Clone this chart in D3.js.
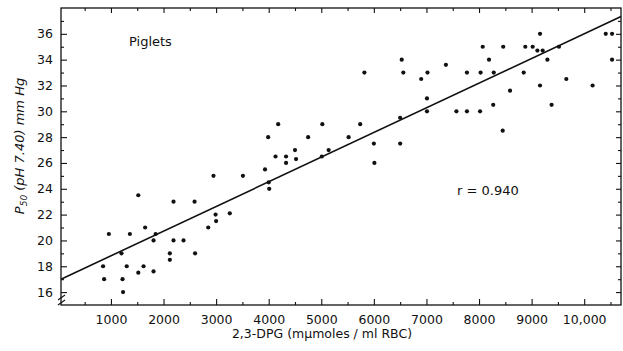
<!DOCTYPE html>
<html>
<head>
<meta charset="utf-8">
<script src="https://cdn.jsdelivr.net/npm/d3@7"></script>
<style>
  body { margin: 0; background: #fff; }
  svg { display: block; font-family: "DejaVu Sans", sans-serif; }
</style>
</head>
<body>
<script>
// 2,3-DPG (mμmoles/ml RBC) vs P50 (mm Hg), piglets
const dpg = [
  850, 870, 960, 1200, 1220, 1230, 1300, 1360, 1520, 1520, 1620, 1650, 1810, 1810, 1850,
  2120, 2120, 2190, 2190, 2380, 2590, 2600, 2850, 2950, 2990, 3000, 3260, 3510,
  3930, 3990, 4000, 4010, 4130, 4180, 4330, 4330, 4500, 4520, 4750, 5010, 5020, 5140,
  5520, 5740, 5820, 6000, 6010, 6500, 6500, 6530, 6560, 6900, 7010, 7010, 7020, 7370,
  7570, 7770, 7770, 8020, 8030, 8070, 8190, 8270, 8280, 8450, 8460, 8590, 8850, 8880,
  9020, 9110, 9160, 9160, 9210, 9300, 9380, 9520, 9660, 10160, 10410, 10530, 10530
];
const p50 = [
  18, 17, 20.5, 19, 17, 16, 18, 20.5, 23.5, 17.5, 18, 21, 20, 17.6, 20.5,
  19, 18.5, 23, 20, 20, 23, 19, 21, 25, 22, 21.5, 22.1, 25,
  25.5, 28, 24.5, 24, 26.5, 29, 26.5, 26, 27, 26.3, 28, 26.5, 29, 27,
  28, 29, 33, 27.5, 26, 27.5, 29.5, 34, 33, 32.5, 31, 30, 33, 33.6,
  30, 30, 33, 30, 33, 35, 34, 30.5, 33, 28.5, 35, 31.6, 33, 35,
  35, 34.7, 36, 32, 34.7, 34, 30.5, 35, 32.5, 32, 36, 36, 34
];
// fitted regression line
const fitIntercept = 16.9;
const fitSlope = 0.00191;
const fitR = "r = 0.940";

const xMajor = [1000, 2000, 3000, 4000, 5000, 6000, 7000, 8000, 9000, 10000];
const xMinor = [500, 1500, 2500, 3500, 4500, 5500, 6500, 7500, 8500, 9500, 10500];
const yMajor = [16, 18, 20, 22, 24, 26, 28, 30, 32, 34, 36];
const yMinor = [17, 19, 21, 23, 25, 27, 29, 31, 33, 35, 37];

const width = 623, height = 351;
const x = d3.scaleLinear().domain([50, 10700]).range([61, 621]);
const y = d3.scaleLinear().domain([15, 38]).range([305, 8]);

const svg = d3.select("body").append("svg")
  .attr("width", width)
  .attr("height", height)
  .attr("viewBox", [0, 0, width, height]);

function styleAxis(g) {
  g.select(".domain").remove();
  g.selectAll(".tick line").attr("stroke", "#111").attr("stroke-width", 1.1);
  g.selectAll(".tick text").attr("fill", "#111").attr("font-size", 12.5)
    .attr("font-family", "DejaVu Sans, sans-serif");
}

const fmtX = d => d === 10000 ? "10,000" : String(d);

// bottom axis
svg.append("g").attr("transform", `translate(0,${y(15)})`)
  .call(d3.axisBottom(x).tickValues(xMajor).tickSize(-6).tickPadding(10).tickFormat(fmtX))
  .call(styleAxis);
svg.append("g").attr("transform", `translate(0,${y(15)})`)
  .call(d3.axisBottom(x).tickValues(xMinor).tickSize(-3).tickFormat(""))
  .call(styleAxis);
// top axis
svg.append("g").attr("transform", `translate(0,${y(38)})`)
  .call(d3.axisTop(x).tickValues(xMajor).tickSize(-5).tickFormat(""))
  .call(styleAxis);
svg.append("g").attr("transform", `translate(0,${y(38)})`)
  .call(d3.axisTop(x).tickValues(xMinor).tickSize(-3).tickFormat(""))
  .call(styleAxis);
// left axis
svg.append("g").attr("transform", `translate(${x(50)},0)`)
  .call(d3.axisLeft(y).tickValues(yMajor).tickSize(-6).tickPadding(8))
  .call(styleAxis);
svg.append("g").attr("transform", `translate(${x(50)},0)`)
  .call(d3.axisLeft(y).tickValues(yMinor).tickSize(-3).tickFormat(""))
  .call(styleAxis);
// right axis
svg.append("g").attr("transform", `translate(${x(10700)},0)`)
  .call(d3.axisRight(y).tickValues(yMajor).tickSize(-5).tickFormat(""))
  .call(styleAxis);
svg.append("g").attr("transform", `translate(${x(10700)},0)`)
  .call(d3.axisRight(y).tickValues(yMinor).tickSize(-3).tickFormat(""))
  .call(styleAxis);

// frame
svg.append("rect")
  .attr("x", x(50)).attr("y", y(38))
  .attr("width", x(10700) - x(50)).attr("height", y(15) - y(38))
  .attr("fill", "none").attr("stroke", "#111").attr("stroke-width", 1.3);

// axis break marks
const bx = x(50), by = y(15) - 8;
[0, 5].forEach(off => {
  svg.append("line")
    .attr("x1", bx - 3).attr("y1", by + off + 3)
    .attr("x2", bx + 4).attr("y2", by + off - 2)
    .attr("stroke", "#111").attr("stroke-width", 1.1);
});

// regression line
const line = d3.line().x(d => x(d)).y(d => y(fitIntercept + fitSlope * d));
svg.append("path")
  .datum(x.domain())
  .attr("d", line)
  .attr("fill", "none").attr("stroke", "#111").attr("stroke-width", 1.6);

// points
svg.append("g").selectAll("circle")
  .data(dpg.map((d, i) => [d, p50[i]]))
  .join("circle")
  .attr("cx", d => x(d[0]))
  .attr("cy", d => y(d[1]))
  .attr("r", 2.1)
  .attr("fill", "#111");

// annotations
svg.append("text").attr("x", 129).attr("y", 46)
  .attr("font-size", 13).attr("fill", "#111").text("Piglets");
svg.append("text").attr("x", 457).attr("y", 195)
  .attr("font-size", 13).attr("fill", "#111").text(fitR);

// axis titles
svg.append("text").attr("x", 322).attr("y", 338)
  .attr("text-anchor", "middle").attr("font-size", 12.5).attr("fill", "#111")
  .text("2,3-DPG (mμmoles / ml RBC)");

const yt = svg.append("text")
  .attr("transform", "translate(24,146) rotate(-90)")
  .attr("text-anchor", "middle").attr("font-size", 13)
  .attr("font-style", "italic").attr("fill", "#111");
yt.append("tspan").text("P");
yt.append("tspan").attr("font-size", 9).attr("dy", 3).text("50");
yt.append("tspan").attr("dy", -3).text(" (pH 7.40) mm Hg");
</script>
</body>
</html>
